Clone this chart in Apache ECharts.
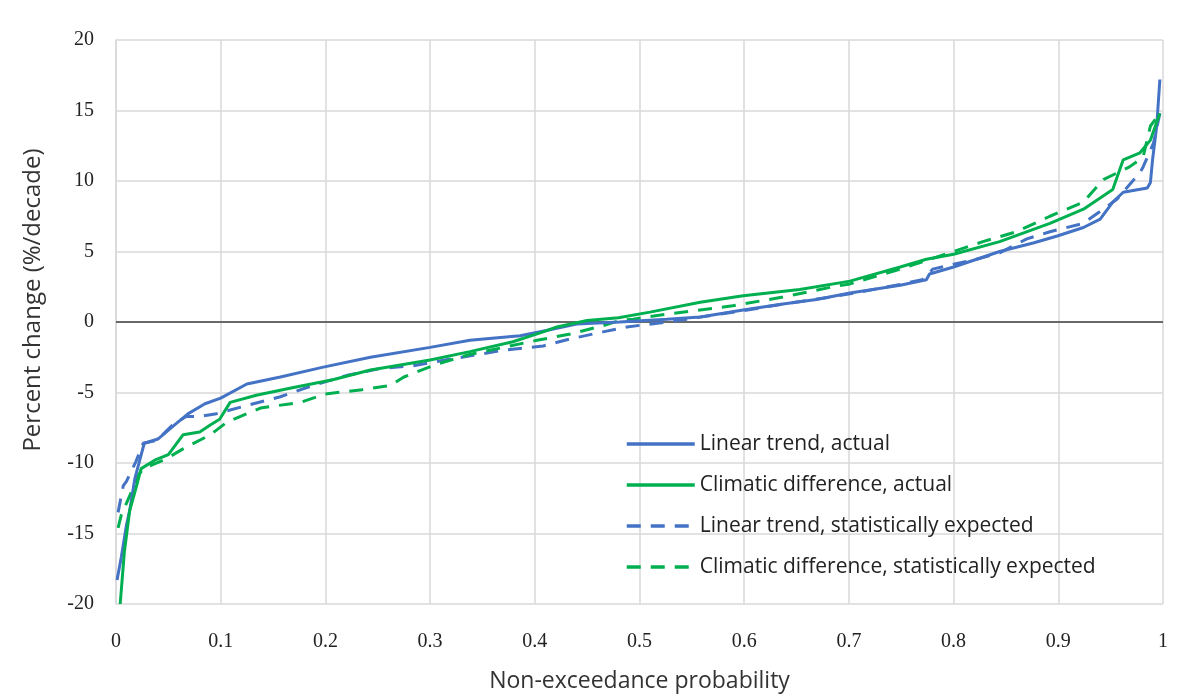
<!DOCTYPE html>
<html>
<head>
<meta charset="utf-8">
<script src="https://cdn.jsdelivr.net/npm/echarts@6/dist/echarts.min.js"></script>
<style>
html,body{margin:0;padding:0;background:#fff;}
#chart{width:1177px;height:698px;}
</style>
</head>
<body>
<div id="chart"></div>
<script>
// Non-exceedance probability / percent change pairs
const linearActual = [
  [0.001,-18.3],[0.005,-16.7],[0.010,-14.4],[0.013,-13.4],[0.018,-11.1],[0.023,-9.7],[0.027,-8.6],
  [0.040,-8.3],[0.056,-7.3],[0.069,-6.5],[0.085,-5.8],[0.100,-5.4],[0.125,-4.4],[0.157,-3.9],
  [0.198,-3.2],[0.243,-2.5],[0.300,-1.8],[0.338,-1.3],[0.386,-0.97],[0.411,-0.6],[0.440,-0.14],
  [0.481,0.0],[0.526,0.2],[0.558,0.35],[0.599,0.85],[0.637,1.27],[0.669,1.6],[0.701,2.05],
  [0.749,2.6],[0.774,3.0],[0.777,3.4],[0.800,3.9],[0.844,5.0],[0.876,5.6],[0.899,6.1],
  [0.924,6.7],[0.940,7.3],[0.952,8.5],[0.962,9.2],[0.985,9.5],[0.988,9.9],[0.990,11.5],
  [0.994,13.9],[0.997,17.2]
];
const climaticActual = [
  [0.004,-20.0],[0.008,-16.3],[0.013,-13.4],[0.019,-11.8],[0.024,-10.4],[0.037,-9.8],[0.050,-9.4],
  [0.064,-8.0],[0.080,-7.8],[0.090,-7.3],[0.099,-6.9],[0.109,-5.7],[0.134,-5.2],[0.166,-4.7],
  [0.207,-4.1],[0.243,-3.4],[0.300,-2.7],[0.338,-2.1],[0.379,-1.4],[0.408,-0.7],[0.421,-0.35],
  [0.450,0.1],[0.480,0.3],[0.510,0.7],[0.558,1.4],[0.599,1.86],[0.653,2.3],[0.701,2.9],
  [0.749,3.9],[0.774,4.45],[0.800,4.8],[0.844,5.7],[0.892,7.0],[0.924,8.0],[0.952,9.4],
  [0.962,11.5],[0.978,12.0],[0.988,12.9],[0.997,14.8]
];
const linearExpected = [
  [0.002,-13.5],[0.007,-11.6],[0.010,-11.3],[0.019,-9.9],[0.026,-8.6],[0.039,-8.4],[0.054,-7.3],
  [0.067,-6.7],[0.080,-6.7],[0.096,-6.5],[0.121,-6.0],[0.157,-5.3],[0.188,-4.5],[0.220,-3.8],
  [0.252,-3.3],[0.284,-3.1],[0.322,-2.6],[0.370,-2.0],[0.408,-1.7],[0.434,-1.2],[0.465,-0.7],
  [0.488,-0.35],[0.526,0.0],[0.545,0.2],[0.599,0.8],[0.637,1.27],[0.685,1.8],[0.701,2.0],
  [0.745,2.6],[0.770,3.0],[0.775,3.3],[0.780,3.75],[0.800,4.1],[0.822,4.45],[0.844,4.9],
  [0.870,5.9],[0.892,6.4],[0.924,7.0],[0.956,8.7],[0.978,10.6],[0.981,11.0],[0.991,12.7],
  [0.997,14.8]
];
const climaticExpected = [
  [0.002,-14.6],[0.005,-13.7],[0.015,-12.0],[0.021,-10.9],[0.026,-10.4],[0.048,-9.7],[0.064,-9.0],
  [0.090,-8.0],[0.106,-7.1],[0.138,-6.1],[0.176,-5.7],[0.200,-5.1],[0.235,-4.8],[0.262,-4.5],
  [0.275,-3.9],[0.306,-3.0],[0.338,-2.3],[0.370,-1.8],[0.402,-1.3],[0.434,-0.85],[0.465,-0.26],
  [0.481,0.1],[0.494,0.2],[0.526,0.56],[0.589,1.15],[0.637,1.77],[0.685,2.5],[0.701,2.7],
  [0.749,3.75],[0.800,5.0],[0.828,5.7],[0.860,6.4],[0.892,7.5],[0.924,8.5],[0.943,10.1],
  [0.968,11.0],[0.981,11.7],[0.988,13.9],[0.997,14.8]
];
const seriesNames = [
  'Linear trend, actual',
  'Climatic difference, actual',
  'Linear trend, statistically expected',
  'Climatic difference, statistically expected'
];
const xTicks = [0,0.1,0.2,0.3,0.4,0.5,0.6,0.7,0.8,0.9,1];
const yTicks = [-20,-15,-10,-5,0,5,10,15,20];

const BLUE = '#4472C4', GREEN = '#00B050';
const chart = echarts.init(document.getElementById('chart'), null, {renderer:'canvas'});
function line(name, data, color, dashed){
  return {
    name, type:'line', data, symbol:'none', showSymbol:false, smooth:false,
    lineStyle:{color, width:3, type: dashed ? [14,10] : 'solid'},
    itemStyle:{color},
    z: dashed ? 3 : 4
  };
}
const series = [
  line(seriesNames[0], linearActual, BLUE, false),
  line(seriesNames[1], climaticActual, GREEN, false),
  line(seriesNames[2], linearExpected, BLUE, true),
  line(seriesNames[3], climaticExpected, GREEN, true)
];
series[0].markLine = {
  silent:true, symbol:['none','none'], label:{show:false},
  lineStyle:{color:'#404040', width:1.5, type:'solid'},
  data:[{yAxis:0}], z:2
};
chart.setOption({
  animation:false,
  backgroundColor:'#fff',
  grid:{left:116, right:14, top:40, bottom:92, containLabel:false},
  legend:{
    orient:'vertical', left:620, top:427, itemWidth:68, itemHeight:14, itemGap:17,
    data:seriesNames,
    itemStyle:{opacity:0},
    lineStyle:{width:3.5},
    textStyle:{fontFamily:'Open Sans', fontSize:21, lineHeight:24, color:'#222'}
  },
  xAxis:{
    type:'value', min:0, max:1, interval:0.1,
    name:'Non-exceedance probability', nameLocation:'middle', nameGap:66,
    nameTextStyle:{fontFamily:'Open Sans', fontSize:23, color:'#333'},
    axisLine:{show:false}, axisTick:{show:false},
    axisLabel:{fontFamily:'Liberation Serif', fontSize:20, color:'#222', margin:28,
      formatter:v=>{ const t = xTicks.find(k=>Math.abs(k-v)<1e-9); return t===undefined?'':String(t);} },
    splitLine:{show:true, lineStyle:{color:'#D9D9D9', width:1.5}}
  },
  yAxis:{
    type:'value', min:-20, max:20, interval:5,
    name:'Percent change (%/decade)', nameLocation:'middle', nameGap:71,
    nameTextStyle:{fontFamily:'Open Sans', fontSize:24, color:'#333', padding:[0,0,0,44]},
    axisLine:{show:true, lineStyle:{color:'#D9D9D9', width:1.5}}, axisTick:{show:false},
    axisLabel:{fontFamily:'Liberation Serif', fontSize:20, color:'#222', margin:22,
      formatter:v=>{ const t = yTicks.find(k=>k===v); return t===undefined?'':String(t);} },
    splitLine:{show:true, lineStyle:{color:'#D9D9D9', width:1.5}}
  },
  series
});
</script>
</body>
</html>
